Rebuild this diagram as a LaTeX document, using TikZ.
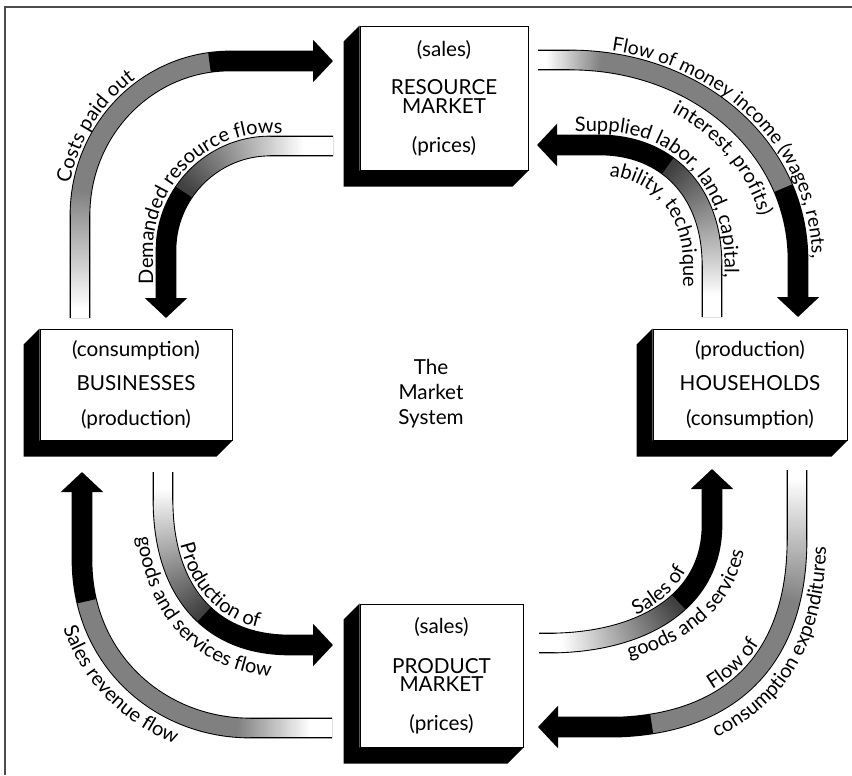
\documentclass[tikz,border=0pt]{standalone}
\usepackage{fontspec}
\setmainfont{Lato}
\usetikzlibrary{arrows.meta,decorations.markings,decorations.text,calc}

\newcommand{\flowfont}{\fontsize{15.5}{14}\selectfont}
\newcommand{\pathfont}{\fontsize{15}{15}\selectfont}

\tikzset{
  market/.style={draw, line width=0.75pt, fill=white, inner sep=0pt, align=center, font=\flowfont},
  flowline/.style={line width=15.5pt, -{Triangle[width=31pt,length=15pt]}},
  % white up to #1, grey level #3 reached at #2, black from #4
  flow/.style n args={4}{flowline, postaction={decorate, decoration={markings,
    mark=between positions 0.9pt and -15pt step 0.8pt with {
      \pgfmathsetmacro\flowf{\pgfkeysvalueof{/pgf/decoration/mark info/distance from start}/\pgfdecoratedpathlength}
      \pgfmathsetmacro\flowm{\flowf<#1 ? 0 : (\flowf<#2 ? #3*(\flowf-#1)/(#2-#1) : (\flowf<#4 ? #3 : 100))}
      \fill[black!\flowm] (-0.8pt,-6.9pt) rectangle (0.8pt,6.9pt);}}}},
  flowtext/.style 2 args={decorate, decoration={text along path, text={|\pathfont|#1}, text align={center,#2}}},
}

\begin{document}
\begin{tikzpicture}[x=0.75pt,y=0.75pt,yscale=-1,xscale=1]
\useasboundingbox (0,0) rectangle (852,775);
% frame
\draw[line width=1.1pt, black!70] (5,775) -- (5,7) -- (852,7);

% Markets and sectors
\node[market, minimum width=126pt, minimum height=108pt] (res) at (444,98) {(sales)\\[15pt]RESOURCE\\MARKET\\[15pt](prices)};
\node[market, minimum width=144pt, minimum height=83.25pt] (bus) at (136,384.5) {(consumption)\\[12pt]BUSINESSES\\[12pt](production)};
\node[market, minimum width=145.5pt, minimum height=83.25pt] (hou) at (750,384.5) {(production)\\[12pt]HOUSEHOLDS\\[12pt](consumption)};
\node[market, minimum width=122.25pt, minimum height=107.25pt] (pro) at (441.5,675.5) {(sales)\\[16pt]PRODUCT\\MARKET\\[15pt](prices)};
\foreach \b in {res,bus,hou,pro}
  \fill (\b.north west) -- ++(-16,16) |- ($(\b.south east)+(-16,16)$) -- (\b.south east) -- (\b.south west) -- cycle;

% Text Node
\node[font=\fontsize{15.5}{18.75}\selectfont, align=center] (sys) at (431,394) {The\\Market\\System};

% Costs paid out
\coordinate (a1s) at (80,318); \coordinate (a1b) at (80,215); \coordinate (a1c) at (230,61); \coordinate (a1t) at (333,61);
\draw[flow={0.02}{0.29}{50}{0.72}] (a1s) -- (a1b) .. controls (80,130) and (147,61) .. (a1c) -- (a1t);
\path[flowtext={Costs paid out}{right indent=52pt}, scale around={1.086:(230,215)}] (80,318) -- (80,215) .. controls (80,130) and (147,61) .. (230,61) -- (333,61);

% Demanded resource flows
\coordinate (a2s) at (333,146); \coordinate (a2b) at (270,146); \coordinate (a2c) at (166,250); \coordinate (a2t) at (166,318);
\draw[flow={0.1}{0.55}{75}{0.56}] (a2s) -- (a2b) .. controls (213,146) and (166,193) .. (a2c) -- (a2t);
\path[flowtext={Demanded resource flows}{right indent=12pt}, scale around={1.125:(270,250)}] (166,318) -- (166,250) .. controls (166,193) and (213,146) .. (270,146) -- (333,146);

% Flow of money income
\coordinate (a3s) at (538,60); \coordinate (a3b) at (570,60); \coordinate (a3c) at (798,260); \coordinate (a3t) at (798,317);
\draw[flow={0.02}{0.15}{50}{0.69}] (a3s) -- (a3b) .. controls (700,60) and (798,150) .. (a3c) -- (a3t);
\path[flowtext={}{left indent=10pt}, decoration={text={|\fontsize{14.5}{14.5}\selectfont|Flow of money income (wages, rents,}}, scale around={1.061:(570,260)}] (538,60) -- (570,60) .. controls (700,60) and (798,150) .. (798,260) -- (798,317);
\path[flowtext={interest, profits)}{left indent=30pt}, scale around={0.86:(570,260)}] (538,60) -- (570,60) .. controls (700,60) and (798,150) .. (798,260) -- (798,317);

% Supplied resources
\coordinate (a4s) at (712,317); \coordinate (a4b) at (712,265); \coordinate (a4c) at (600,145); \coordinate (a4t) at (537,145);
\draw[flow={0.07}{0.54}{75}{0.55}] (a4s) -- (a4b) .. controls (712,190) and (665,145) .. (a4c) -- (a4t);
\path[flowtext={Supplied labor, land, capital,}{}, scale around={1.112:(600,265)}] (537,145) -- (600,145) .. controls (665,145) and (712,190) .. (712,265) -- (712,317);
\path[flowtext={ability, technique}{left indent=30pt}, scale around={0.741:(600,265)}] (537,145) -- (600,145) .. controls (665,145) and (712,190) .. (712,265) -- (712,317);

% Production of goods and services
\coordinate (a5s) at (163,472); \coordinate (a5b) at (163,500); \coordinate (a5c) at (290,645); \coordinate (a5t) at (333,645);
\draw[flow={0.06}{0.52}{75}{0.53}] (a5s) -- (a5b) .. controls (163,585) and (205,645) .. (a5c) -- (a5t);
\path[flowtext={Production of}{}, scale around={0.904:(290,500)}] (163,472) -- (163,500) .. controls (163,585) and (205,645) .. (290,645) -- (333,645);
\path[flowtext={goods and services flow}{}, scale around={1.221:(290,500)}] (163,472) -- (163,500) .. controls (163,585) and (205,645) .. (290,645) -- (333,645);

% Sales revenue
\coordinate (a6s) at (332,728); \coordinate (a6b) at (250,728); \coordinate (a6c) at (82,560); \coordinate (a6t) at (82,472);
\draw[flow={0.05}{0.22}{50}{0.7}] (a6s) -- (a6b) .. controls (160,728) and (82,660) .. (a6c) -- (a6t);
\path[flowtext={Sales revenue flow}{}, scale around={1.179:(250,560)}] (82,472) -- (82,560) .. controls (82,660) and (160,728) .. (250,728) -- (332,728);

% Sales of goods and services
\coordinate (a7s) at (539,643); \coordinate (a7b) at (555,643); \coordinate (a7c) at (712,525); \coordinate (a7t) at (712,469);
\draw[flow={0.08}{0.5}{75}{0.51}] (a7s) -- (a7b) .. controls (645,641) and (712,600) .. (a7c) -- (a7t);
\path[flowtext={Sales of}{}, scale around={0.905:(555,525)}] (539,643) -- (555,643) .. controls (645,641) and (712,600) .. (712,525) -- (712,469);
\path[flowtext={goods and services}{}, scale around={1.219:(555,525)}] (539,643) -- (555,643) .. controls (645,641) and (712,600) .. (712,525) -- (712,469);

% Consumption expenditures
\coordinate (a8s) at (797,470); \coordinate (a8b) at (797,540); \coordinate (a8c) at (620,727); \coordinate (a8t) at (538,727);
\draw[flow={0.02}{0.3}{50}{0.74}] (a8s) -- (a8b) .. controls (797,650) and (740,722) .. (a8c) -- (a8t);
\path[flowtext={Flow of}{}, scale around={0.929:(620,540)}] (538,727) -- (620,727) .. controls (740,722) and (797,650) .. (797,540) -- (797,470);
\path[flowtext={consumption expenditures}{left indent=80pt}, scale around={1.165:(620,540)}] (538,727) -- (620,727) .. controls (740,722) and (797,650) .. (797,540) -- (797,470);
\end{tikzpicture}
\end{document}
